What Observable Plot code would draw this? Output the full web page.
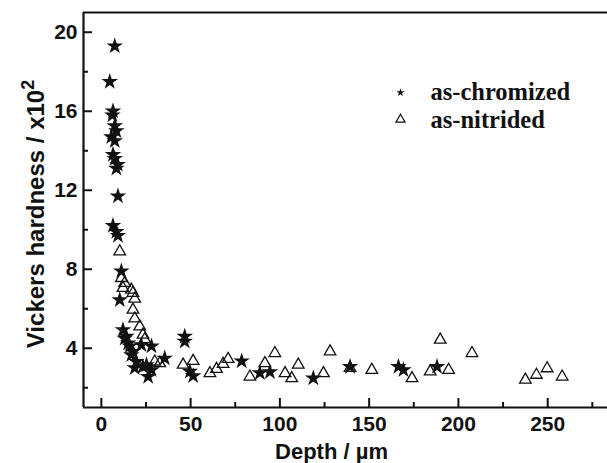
<!DOCTYPE html>
<html><head><meta charset="utf-8">
<script src="https://cdn.jsdelivr.net/npm/d3@7"></script>
<script src="https://cdn.jsdelivr.net/npm/@observablehq/plot@0.6"></script>
<style>body{margin:0;background:#fff}#chart svg{display:block}</style>
</head><body><div id="chart"></div>
<script>
// as-chromized (stars)
const chromizedDepth = [7.5,4.7,6.5,6.2,7.5,8.4,5.6,7.5,6.5,7.5,9.2,8.4,9.3,6.5,8.4,9.3,11.2,10.3,12.1,14,13.1,15,15.9,22.4,28.1,17.7,16.8,19.6,18.7,23.3,25.3,26.2,28.1,35.5,46.7,46.7,49.6,51.4,78.6,88.8,94.4,118.7,139.3,166.4,169.2,188];
const chromizedHardness = [19.3,17.5,16.0,15.8,15.25,15.0,14.7,14.5,13.8,13.6,13.3,13.1,11.7,10.2,9.9,9.7,7.9,6.45,4.93,4.6,4.5,4.25,4.1,4.17,4.1,3.83,3.66,3.32,3.0,3.07,3.16,2.56,2.9,3.49,4.6,4.35,2.82,2.6,3.35,2.75,2.8,2.48,3.07,3.07,2.9,3.07];
// as-nitrided (open triangles)
const nitridedDepth = [10.3,11.2,13.1,12.1,16.8,17.7,18.7,17.7,18.7,21.5,23.3,24.3,29.9,32.7,45.8,51.4,60.8,64.5,68.2,71,83.2,91.6,97.2,102.9,106.6,110.3,124.4,128.1,139.3,151.5,174,184.2,189.8,194.5,207.6,237.5,243.7,249.7,258.1];
const nitridedHardness = [8.9,7.55,7.3,7.05,6.96,6.8,6.5,5.95,5.5,5.1,4.68,4.45,3.32,3.24,3.16,3.35,2.73,2.95,3.2,3.45,2.56,3.24,3.75,2.73,2.48,3.16,2.73,3.83,3.0,2.9,2.48,2.82,4.43,2.9,3.75,2.4,2.65,2.98,2.56];

const xMajorTicks = [0,50,100,150,200,250];
const xMinorTicks = [25,75,125,175,225,275];
const yMajorTicks = [4,8,12,16,20];
const yMinorTicks = [2,6,10,14,18];
const xDomain = [-10, 283.5];
const yDomain = [1, 21];
const legendLabels = ["as-chromized","as-nitrided"];
const xLabel = "Depth / µm";
const yLabel = "Vickers hardness / x10";

const chromized = chromizedDepth.map((d,i)=>({depth:d, hardness:chromizedHardness[i]}));
const nitrided = nitridedDepth.map((d,i)=>({depth:d, hardness:nitridedHardness[i]}));

const ink = "#111";
const sans = "'Liberation Sans', Arial, sans-serif";
const serif = "'Liberation Serif', 'Times New Roman', serif";

const W = 607, H = 463, mL = 83, mR = 0, mT = 12, mB = 56;
const frameW = W - mL - mR, frameH = H - mT - mB;

const chart = Plot.plot({
  width: W,
  height: H,
  marginLeft: mL,
  marginRight: mR,
  marginTop: mT,
  marginBottom: mB,
  style: {fontFamily: sans, fontWeight: "bold", color: ink, background: "#fff"},
  x: {domain: xDomain},
  y: {domain: yDomain},
  marks: [
    Plot.axisX(xMajorTicks, {tickSize: 0, tickPadding: 9, fontSize: 21, label: null}),
    Plot.axisY(yMajorTicks, {tickSize: 0, tickPadding: 6, fontSize: 21, label: null}),
    // inward ticks
    Plot.tickX(xMajorTicks, {x: d=>d, insetTop: frameH - 9, stroke: ink, strokeWidth: 2}),
    Plot.tickX(xMinorTicks, {x: d=>d, insetTop: frameH - 5, stroke: ink, strokeWidth: 2}),
    Plot.tickY(yMajorTicks, {y: d=>d, insetRight: frameW - 9, stroke: ink, strokeWidth: 2}),
    Plot.tickY(yMinorTicks, {y: d=>d, insetRight: frameW - 5, stroke: ink, strokeWidth: 2}),
    Plot.ruleX([xDomain[0]], {stroke: ink, strokeWidth: 2.2}),
    Plot.ruleY([yDomain[0]], {stroke: ink, strokeWidth: 2.2}),
    Plot.ruleY([yDomain[1]], {stroke: ink, strokeWidth: 2.2}),
    Plot.dot(nitrided, {x: "depth", y: "hardness", symbol: "triangle", r: 4.3, fill: "none", stroke: ink, strokeWidth: 1.3}),
    Plot.dot(chromized, {x: "depth", y: "hardness", symbol: "star", r: 5.2, fill: ink, stroke: "none"}),
    // legend
    Plot.dot([legendLabels[0]], {frameAnchor: "top-left", dx: 317, dy: 80, symbol: "star", r: 2.6, fill: ink, stroke: "none"}),
    Plot.dot([legendLabels[1]], {frameAnchor: "top-left", dx: 317, dy: 107, symbol: "triangle", r: 3.4, fill: "none", stroke: ink, strokeWidth: 1.2}),
    Plot.text([legendLabels[0]], {frameAnchor: "top-left", dx: 347, dy: 80, text: d=>d, textAnchor: "start", lineAnchor: "middle", fontFamily: serif, fontSize: 24.5, fontWeight: "bold", fill: ink}),
    Plot.text([legendLabels[1]], {frameAnchor: "top-left", dx: 347, dy: 108, text: d=>d, textAnchor: "start", lineAnchor: "middle", fontFamily: serif, fontSize: 24.5, fontWeight: "bold", fill: ink}),
    // axis titles
    Plot.text([xLabel], {frameAnchor: "bottom", dx: -14, dy: 44, text: d=>d, textAnchor: "middle", lineAnchor: "middle", fontSize: 22, fontWeight: "bold", fill: ink}),
    Plot.text([yLabel], {frameAnchor: "left", dx: -47, dy: 4, rotate: -90, text: d=>d, textAnchor: "middle", lineAnchor: "middle", fontSize: 24, fontWeight: "bold", fill: ink})
  ]
});

chart.querySelectorAll("text").forEach(t => {
  if (t.textContent === yLabel) {
    const sup = document.createElementNS("http://www.w3.org/2000/svg", "tspan");
    sup.setAttribute("baseline-shift", "super");
    sup.setAttribute("font-size", "18");
    sup.textContent = "2";
    t.appendChild(sup);
  }
});
document.getElementById("chart").appendChild(chart);
</script>
</body></html>
